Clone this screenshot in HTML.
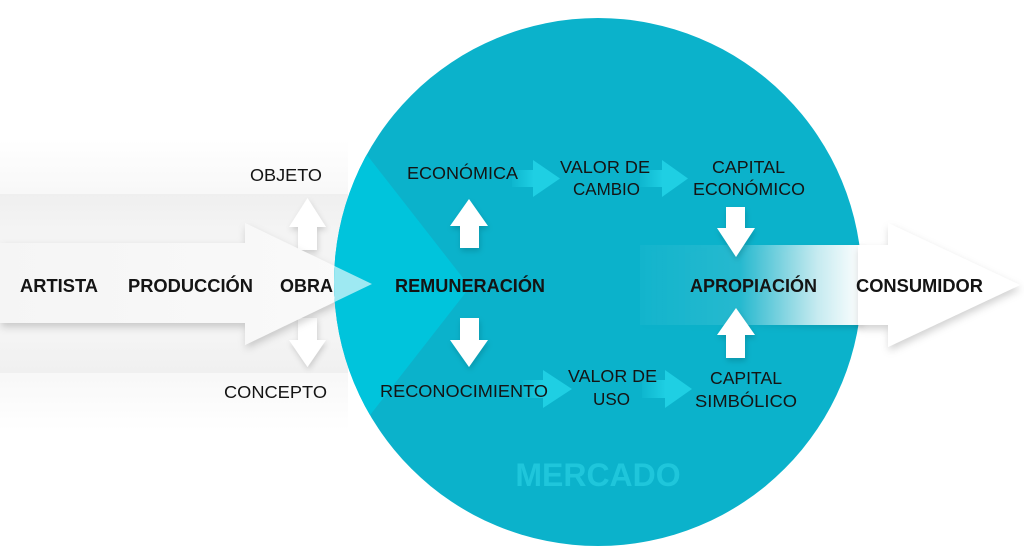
<!DOCTYPE html>
<html>
<head>
<meta charset="utf-8">
<style>
  html,body{margin:0;padding:0;background:#fff;}
  svg{display:block;}
  text{font-family:"Liberation Sans", Arial, sans-serif; fill:#141414;}
  .b{font-weight:bold;font-size:18.5px;}
  .r{font-size:17.5px;}
</style>
</head>
<body>
<svg width="1024" height="559" viewBox="0 0 1024 559" xmlns="http://www.w3.org/2000/svg">
  <defs>
    <filter id="sh" x="-20%" y="-30%" width="140%" height="170%">
      <feDropShadow dx="1" dy="4" stdDeviation="4" flood-color="#000" flood-opacity="0.18"/>
    </filter>
    <filter id="sh2" x="-30%" y="-30%" width="160%" height="160%">
      <feDropShadow dx="1" dy="3" stdDeviation="3" flood-color="#000" flood-opacity="0.16"/>
    </filter>
    <clipPath id="circ"><circle cx="598" cy="282" r="264"/></clipPath>
    <linearGradient id="outerL" x1="0" y1="140" x2="0" y2="430" gradientUnits="userSpaceOnUse">
      <stop offset="0" stop-color="#ffffff"/>
      <stop offset="0.18" stop-color="#f8f8f8"/>
      <stop offset="0.82" stop-color="#f8f8f8"/>
      <stop offset="1" stop-color="#ffffff"/>
    </linearGradient>
    <linearGradient id="bandL" x1="0" y1="0" x2="0" y2="1">
      <stop offset="0" stop-color="#efefef"/>
      <stop offset="0.2" stop-color="#f4f4f4"/>
      <stop offset="0.8" stop-color="#f4f4f4"/>
      <stop offset="1" stop-color="#f0f0f0"/>
    </linearGradient>
    <linearGradient id="arrL" x1="0" y1="0" x2="1" y2="0">
      <stop offset="0" stop-color="#f5f5f5"/>
      <stop offset="1" stop-color="#fafafa"/>
    </linearGradient>
    <linearGradient id="bandR" x1="640" y1="0" x2="862" y2="0" gradientUnits="userSpaceOnUse">
      <stop offset="0" stop-color="#ffffff" stop-opacity="0.03"/>
      <stop offset="0.45" stop-color="#ffffff" stop-opacity="0.1"/>
      <stop offset="0.8" stop-color="#ffffff" stop-opacity="0.75"/>
      <stop offset="1" stop-color="#ffffff" stop-opacity="1"/>
    </linearGradient>
    <linearGradient id="cy" x1="0" y1="0" x2="1" y2="0">
      <stop offset="0" stop-color="#1fcfe3" stop-opacity="0.15"/>
      <stop offset="1" stop-color="#1fcfe3" stop-opacity="1"/>
    </linearGradient>
  </defs>

  <!-- pale background panels on the left -->
  <rect x="0" y="140" width="348" height="290" fill="url(#outerL)"/>
  <rect x="0" y="194" width="348" height="179" fill="url(#bandL)"/>

  <!-- OBJETO / CONCEPTO arrows -->
  <polygon points="298,250 298,227 289,227 307.5,198 326,227 317,227 317,250" fill="#ffffff" filter="url(#sh2)"/>
  <polygon points="298,318 317,318 317,340 326,340 307.5,367 289,340 298,340" fill="#ffffff" filter="url(#sh2)"/>

  <!-- main left arrow -->
  <polygon points="0,243 245,243 245,223 372,284 245,345 245,323 0,323" fill="url(#arrL)" filter="url(#sh)"/>

  <!-- market circle -->
  <circle cx="598" cy="282" r="264" fill="#0bb2cb"/>
  <g clip-path="url(#circ)">
    <polygon points="250,5 470,287 250,569" fill="#00c4dc"/>
    <polygon points="0,243 245,243 245,223 372,284 245,345 245,323 0,323" fill="#ffffff" fill-opacity="0.62"/>
  </g>

  <!-- MERCADO -->
  <text x="598" y="486" text-anchor="middle" font-weight="bold" font-size="32" style="fill:#1fc6db">MERCADO</text>

  <!-- white arrows inside circle -->
  <polygon points="460,248 460,226 450,226 469,199 488,226 479,226 479,248" fill="#ffffff" filter="url(#sh2)"/>
  <polygon points="460,318 479,318 479,340 488,340 469,367 450,340 460,340" fill="#ffffff" filter="url(#sh2)"/>

  <!-- cyan small arrows -->
  <rect x="512" y="170" width="22" height="17" fill="url(#cy)"/>
  <polygon points="533,160 560,178.5 533,197" fill="#1fcfe3"/>
  <rect x="640" y="170" width="23" height="17" fill="url(#cy)"/>
  <polygon points="662,160 688,178.5 662,197" fill="#1fcfe3"/>
  <rect x="523" y="380" width="21" height="18" fill="url(#cy)"/>
  <polygon points="543,370 572,389 543,408" fill="#1fcfe3"/>
  <rect x="642" y="380" width="24" height="18" fill="url(#cy)"/>
  <polygon points="665,370 692,389 665,408" fill="#1fcfe3"/>

  <!-- right gradient band + arrow -->
  <rect x="640" y="245" width="222" height="80" fill="url(#bandR)" filter="url(#sh2)"/>
  <polygon points="726,207 745,207 745,228 755,228 736,257 717,228 726,228" fill="#ffffff" filter="url(#sh2)"/>
  <polygon points="717,335 736,308 755,335 745,335 745,358 726,358 726,335" fill="#ffffff" filter="url(#sh2)"/>
  <polygon points="858,245 888,245 888,223 1020,285 888,347 888,325 858,325" fill="#ffffff" filter="url(#sh)"/>

  <!-- labels -->
  <text class="b" x="20" y="292" textLength="78" lengthAdjust="spacingAndGlyphs">ARTISTA</text>
  <text class="b" x="128" y="292" textLength="125" lengthAdjust="spacingAndGlyphs">PRODUCCIÓN</text>
  <text class="b" x="280" y="292" textLength="53" lengthAdjust="spacingAndGlyphs">OBRA</text>
  <text class="b" x="395" y="292" textLength="150" lengthAdjust="spacingAndGlyphs">REMUNERACIÓN</text>
  <text class="b" x="690" y="292" textLength="127" lengthAdjust="spacingAndGlyphs">APROPIACIÓN</text>
  <text class="b" x="856" y="292" textLength="127" lengthAdjust="spacingAndGlyphs">CONSUMIDOR</text>

  <text class="r" x="250" y="181" textLength="72" lengthAdjust="spacingAndGlyphs">OBJETO</text>
  <text class="r" x="224" y="398" textLength="103" lengthAdjust="spacingAndGlyphs">CONCEPTO</text>

  <text class="r" x="407" y="179" textLength="111" lengthAdjust="spacingAndGlyphs">ECONÓMICA</text>
  <text class="r" x="560" y="173" textLength="90" lengthAdjust="spacingAndGlyphs">VALOR DE</text>
  <text class="r" x="573" y="195" textLength="67" lengthAdjust="spacingAndGlyphs">CAMBIO</text>
  <text class="r" x="712" y="173" textLength="73" lengthAdjust="spacingAndGlyphs">CAPITAL</text>
  <text class="r" x="693" y="195" textLength="112" lengthAdjust="spacingAndGlyphs">ECONÓMICO</text>

  <text class="r" x="380" y="397" textLength="168" lengthAdjust="spacingAndGlyphs">RECONOCIMIENTO</text>
  <text class="r" x="568" y="382" textLength="89" lengthAdjust="spacingAndGlyphs">VALOR DE</text>
  <text class="r" x="593" y="405" textLength="37" lengthAdjust="spacingAndGlyphs">USO</text>
  <text class="r" x="710" y="384" textLength="72" lengthAdjust="spacingAndGlyphs">CAPITAL</text>
  <text class="r" x="695" y="407" textLength="102" lengthAdjust="spacingAndGlyphs">SIMBÓLICO</text>
</svg>
</body>
</html>
